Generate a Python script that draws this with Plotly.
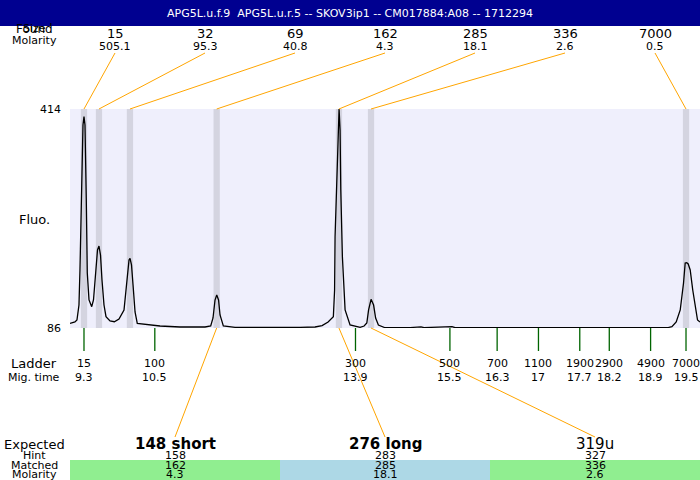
import plotly.graph_objects as go

TITLE = 'APG5L.u.f.9  APG5L.u.r.5 -- SKOV3ip1 -- CM017884:A08 -- 1712294'

# electropherogram: migration time (min) vs fluorescence
trace_time = [9.063, 9.147, 9.181, 9.215, 9.232, 9.261, 9.283, 9.300, 9.317, 9.339,
              9.356, 9.385, 9.431, 9.461, 9.495, 9.529, 9.554, 9.580, 9.605, 9.639,
              9.673, 9.741, 9.814, 9.893, 9.978, 10.029, 10.063, 10.080, 10.105, 10.131,
              10.165, 10.203, 10.334, 10.588, 10.927, 11.351, 11.447, 11.486, 11.520, 11.549,
              11.580, 11.605, 11.661, 11.859, 12.961, 13.215, 13.334, 13.436, 13.525, 13.546,
              13.554, 13.593, 13.610, 13.622, 13.639, 13.651, 13.678, 13.724, 13.808, 13.893,
              13.978, 14.046, 14.092, 14.122, 14.164, 14.207, 14.241, 14.288, 14.402, 14.825,
              14.960, 15.010, 15.060, 15.536, 15.588, 17.030, 18.046, 19.198, 19.261, 19.334,
              19.402, 19.458, 19.486, 19.512, 19.537, 19.571, 19.614, 19.656, 19.695, 19.737]
trace_fluo = [93.0, 95.0, 98.0, 120.4, 172.9, 318.1, 390.0, 402.5, 390.0, 277.7,
              168.4, 128.0, 117.9, 128.0, 165.4, 202.8, 208.8, 195.3, 157.9, 120.4,
              102.9, 96.5, 95.4, 99.5, 113.0, 165.4, 187.8, 190.4, 180.4, 150.4,
              110.0, 93.0, 91.5, 89.0, 87.5, 87.5, 89.0, 101.0, 127.9, 135.4,
              127.9, 105.5, 89.0, 87.0, 87.0, 87.5, 89.7, 95.0, 102.9, 142.9,
              222.7, 342.6, 397.5, 414.0, 382.5, 292.7, 192.8, 113.0, 90.5, 88.2,
              87.0, 89.0, 93.5, 113.0, 129.0, 120.4, 101.0, 90.5, 86.4, 86.7,
              87.8, 87.6, 86.6, 88.0, 86.4, 86.4, 86.4, 86.7, 88.0, 95.0,
              113.0, 153.4, 183.4, 183.8, 181.9, 172.9, 142.9, 117.9, 98.0, 95.0]

# found peaks
peak_time = [9.30, 9.554, 10.079, 11.548, 13.62, 14.163, 19.50]
peak_size = [15, 32, 69, 162, 285, 336, 7000]
peak_molarity = [505.1, 95.3, 40.8, 4.3, 18.1, 2.6, 0.5]

# ladder
ladder_size = [15, 100, 300, 500, 700, 1100, 1900, 2900, 4900, 7000]
ladder_time = [9.3, 10.5, 13.9, 15.5, 16.3, 17, 17.7, 18.2, 18.9, 19.5]

# expected products
expected_label = ['<b>148 short</b>', '<b>276 long</b>', '319u']
expected_peak_time = [11.548, 13.62, 14.163]
hint_size = [158, 283, 327]
matched_size = [162, 285, 336]
matched_molarity = [4.3, 18.1, 2.6]
matched_color = ['lightgreen', 'lightblue', 'lightgreen']

T_MIN, T_MAX = 9.063, 19.737
Y_MIN, Y_MAX = 86, 414
FONT = 'DejaVu Sans'
W, H = 700, 480
X0 = 0.1  # left edge of plot domain


def py(y_px):
    """pixel row -> paper y"""
    return 1 - y_px / H


def t_at(frac):
    """fraction of the plot width -> migration time"""
    return T_MIN + frac * (T_MAX - T_MIN)


def label(text, x, y, size=11, xref='x'):
    return dict(text=text, xref=xref, yref='paper', x=x, y=py(y),
                xanchor='center', yanchor='middle', showarrow=False,
                borderpad=0, font=dict(size=size))


fig = go.Figure()
fig.add_trace(go.Scatter(
    x=trace_time, y=trace_fluo, mode='lines',
    line=dict(color='black', width=1.3),
    hoverinfo='skip', showlegend=False,
))

shapes = []
annos = []

# title bar
shapes.append(dict(type='rect', xref='paper', yref='paper', x0=0, x1=1,
                   y0=py(26), y1=1, fillcolor='#000090', line_width=0, layer='below'))
annos.append(dict(label(TITLE, 0.5, 13, xref='paper'),
                  font=dict(color='white', size=11)))

# peak bands
for t in peak_time:
    shapes.append(dict(type='rect', xref='x', yref='paper', x0=t - 0.053, x1=t + 0.053,
                       y0=py(328), y1=py(109), fillcolor='#D4D4E0', line_width=0,
                       layer='below'))

# top labels and leader lines
n = len(peak_size)
for i, (t, s, m) in enumerate(zip(peak_time, peak_size, peak_molarity)):
    lt = t_at((i + 0.5) / n)
    annos.append(label(str(s), lt, 34, 13))
    annos.append(label(str(m), lt, 46, 11))
    shapes.append(dict(type='line', xref='x', yref='paper', x0=lt, x1=t,
                       y0=py(53), y1=py(109), line=dict(color='orange', width=1)))

# ladder ticks
for s, t in zip(ladder_size, ladder_time):
    shapes.append(dict(type='line', xref='x', yref='paper', x0=t, x1=t,
                       y0=py(328), y1=py(351), line=dict(color='darkgreen', width=1.3)))
    annos.append(label(str(s), t, 363))
    annos.append(label(str(t), t, 377))

# expected / hint / matched rows
k = len(expected_label)
for i in range(k):
    c = t_at((i + 0.5) / k)
    shapes.append(dict(type='rect', xref='x', yref='paper', x0=t_at(i / k), x1=t_at((i + 1) / k),
                       y0=0, y1=py(460), fillcolor=matched_color[i], line_width=0, layer='below'))
    shapes.append(dict(type='line', xref='x', yref='paper', x0=expected_peak_time[i], x1=c,
                       y0=py(328), y1=py(437), line=dict(color='orange', width=1)))
    annos.append(label(expected_label[i], c, 444, 15))
    annos.append(label(str(hint_size[i]), c, 455))
    annos.append(label(str(matched_size[i]), c, 465))
    annos.append(label(str(matched_molarity[i]), c, 474.5))

# left-hand row labels
left = [('Size', 28, 11), ('Found', 29, 12), ('Molarity', 40, 11), ('Fluo.', 220, 13),
        ('Ladder', 363, 13), ('Mig. time', 377, 11), ('Expected', 444, 13),
        ('Hint', 455, 11), ('Matched', 465, 11), ('Molarity', 474.5, 11)]
for txt, y, sz in left:
    annos.append(label(txt, 34 / W, y, sz, xref='paper'))

fig.update_layout(
    width=W, height=H,
    margin=dict(l=0, r=0, t=0, b=0, pad=0, autoexpand=False),
    paper_bgcolor='white',
    plot_bgcolor='#EFEFFC',
    font=dict(family=FONT, color='black'),
    shapes=shapes,
    annotations=annos,
    xaxis=dict(domain=[X0, 1], range=[T_MIN, T_MAX], visible=False, fixedrange=True),
    yaxis=dict(domain=[py(328), py(109)], range=[Y_MIN, Y_MAX], tickvals=[Y_MIN, Y_MAX],
               ticks='', showgrid=False, zeroline=False, showline=False, automargin=False,
               ticklabelstandoff=8, tickfont=dict(size=11), fixedrange=True),
)

fig.write_html('out.html', config={'displayModeBar': False},
               post_script="document.body.style.margin='0';"
                           "document.body.style.overflow='hidden';")
